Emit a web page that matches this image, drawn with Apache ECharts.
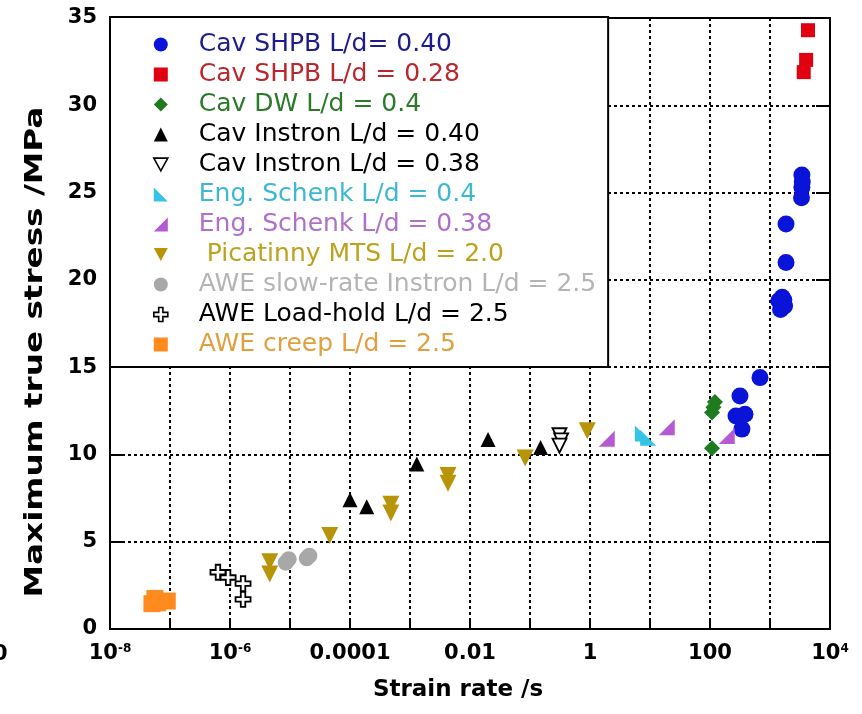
<!DOCTYPE html>
<html>
<head>
<meta charset="utf-8">
<script src="https://cdn.jsdelivr.net/npm/echarts@6/dist/echarts.min.js"></script>
<style>
  html, body { margin: 0; padding: 0; background: #fff; }
  #main { width: 862px; height: 714px; }
</style>
</head>
<body>
<div id="main"></div>
<script>
// strain rate (/s), max true stress (MPa)
const cavShpb040 = [[681, 14.4], [316, 13.35], [271, 12.2], [383, 12.3], [341, 11.45],
  [1400, 18.8], [1600, 19.0], [1750, 18.5], [1500, 18.3], [1700, 18.85], [1550, 18.6],
  [1850, 21.0], [1850, 23.2], [3400, 26.0], [3400, 25.3], [3350, 24.7], [3450, 25.6]];
const cavShpb028 = [[4300, 34.3], [4000, 32.6], [3650, 31.9]];
const cavDw = [[121, 13.0], [114, 12.7], [108, 12.4], [108, 10.35]];
const cavInstron040 = [[1e-4, 7.4], [1.9e-4, 7.0], [1.3e-3, 9.45], [0.02, 10.85], [0.15, 10.4]];
const cavInstron038 = [[0.31, 11.1], [0.33, 10.8], [0.31, 10.5]];
const engSchenk04 = [[7.6, 11.2], [9.3, 10.95]];
const engSchenk038 = [[1.9, 10.9], [19, 11.55], [190, 11.05]];
const picatinny = [[4.6e-6, 3.85], [4.6e-6, 3.15], [4.6e-5, 5.35], [4.8e-4, 7.15], [4.8e-4, 6.65],
  [4.3e-3, 8.8], [4.3e-3, 8.35], [0.083, 9.8], [0.9, 11.35]];
const aweSlow = [[8.5e-6, 3.8], [9.5e-6, 4.0], [1.9e-5, 4.05], [2.1e-5, 4.2]];
const aweLoadHold = [[6.3e-7, 3.25], [9.3e-7, 2.95], [1.65e-6, 2.6], [1.65e-6, 1.7]];
const aweCreep = [[5.0e-8, 1.45], [5.6e-8, 1.75], [6.2e-8, 1.5], [9.0e-8, 1.6]];

// x tick labels by decade exponent
const xTickLabels = { '-8': '10{sup|-8}', '-6': '10{sup|-6}', '-4': '0.0001', '-2': '0.01', '0': '1', '2': '100', '4': '10{sup|4}' };

const FONT = 'DejaVu Sans';
const downTri = 'path://M0,0L12,0L6,11Z';
const triLeft = 'path://M0,0L0,10L10,10Z';
const triRight = 'path://M10,0L10,10L0,10Z';
const plus = 'path://M3.5,0H6.5V3.5H10V6.5H6.5V10H3.5V6.5H0V3.5H3.5Z';

// [name, data, symbol, size, fill, border, text colour, legend icon size]
const groups = [
  ['Cav SHPB L/d= 0.40', cavShpb040, 'circle', 17, '#0a14d8', '#0a14d8', '#1c1c8c'],
  ['Cav SHPB L/d = 0.28', cavShpb028, 'rect', 14, '#e00010', '#e00010', '#b8282e'],
  ['Cav DW L/d = 0.4', cavDw, 'diamond', 16, '#1e7b1e', '#1e7b1e', '#2a7a2a'],
  ['Cav Instron L/d = 0.40', cavInstron040, 'triangle', 15, '#000', '#000', '#000'],
  ['Cav Instron L/d = 0.38', cavInstron038, downTri, 14, '#fff', '#000', '#000'],
  ['Eng. Schenk L/d = 0.4', engSchenk04, triLeft, 16, '#33c4e8', '#33c4e8', '#3cb8d4'],
  ['Eng. Schenk L/d = 0.38', engSchenk038, triRight, 16, '#b45ad2', '#b45ad2', '#b070c8'],
  [' Picatinny MTS L/d = 2.0', picatinny, downTri, 17, '#b8940a', '#b8940a', '#bca21e'],
  ['AWE slow-rate Instron L/d = 2.5', aweSlow, 'circle', 16, '#a8a8a8', '#a8a8a8', '#b4b4b4'],
  ['AWE Load-hold L/d = 2.5', aweLoadHold, plus, 15, '#fff', '#000', '#000'],
  ['AWE creep L/d = 2.5', aweCreep, 'rect', 17, '#ff8a1e', '#ff8a1e', '#e0a040']
];

const series = groups.map(g => ({
  name: g[0],
  type: 'scatter',
  symbol: g[2],
  symbolSize: g[3],
  itemStyle: { color: g[4], borderColor: g[5], borderWidth: g[4] === '#fff' ? 1.8 : 0, opacity: 1 },
  data: g[1].map(p => [Math.log10(p[0]), p[1]])
}));

const chart = echarts.init(document.getElementById('main'));
chart.setOption({
  animation: false,
  backgroundColor: '#fff',
  grid: { left: 110, right: 32, top: 18, bottom: 85, show: true, borderColor: '#000', borderWidth: 2 },
  legend: {
    orient: 'vertical',
    left: 110,
    top: 17,
    padding: [15, 12, 10, 43],
    itemGap: 5,
    itemWidth: 14,
    itemHeight: 14,
    backgroundColor: '#fff',
    borderColor: '#000',
    borderWidth: 2,
    borderRadius: 0,
    selectedMode: false,
    formatter: name => '{sp| }' + name,
    textStyle: { fontFamily: FONT, fontSize: 25, lineHeight: 25, rich: { sp: { width: 26 } } },
    data: groups.map(g => ({
      name: g[0],
      icon: g[2],
      itemStyle: { color: g[4], borderColor: g[5], borderWidth: g[4] === '#fff' ? 1.6 : 0 },
      textStyle: { color: g[6] }
    }))
  },
  xAxis: {
    type: 'value',
    min: -8,
    max: 4,
    interval: 1,
    name: 'Strain rate /s',
    nameLocation: 'middle',
    nameGap: 50,
    nameTextStyle: { fontFamily: FONT, fontWeight: 'bold', fontSize: 23, color: '#000', padding: [0, 24, 0, 0] },
    axisLine: { onZero: false, lineStyle: { color: '#000', width: 2 } },
    axisTick: { inside: true, length: 10, lineStyle: { color: '#000', width: 2 } },
    splitLine: { show: true, lineStyle: { color: '#000', width: 2, type: [3, 3] } },
    axisLabel: {
      margin: 14,
      color: '#000',
      fontFamily: FONT,
      fontWeight: 'bold',
      fontSize: 21,
      lineHeight: 22,
      formatter: v => xTickLabels[String(Math.round(v))] || '',
      rich: { sup: { fontFamily: FONT, fontWeight: 'bold', fontSize: 12, lineHeight: 12, verticalAlign: 'top', color: '#000' } }
    }
  },
  yAxis: [{
    type: 'value',
    min: 0,
    max: 35,
    interval: 5,
    axisLine: { show: true, onZero: false, lineStyle: { color: '#000', width: 2 } },
    axisTick: { show: true, inside: true, length: 14, lineStyle: { color: '#000', width: 2 } },
    splitLine: { show: true, lineStyle: { color: '#000', width: 2, type: [3, 3] } },
    axisLabel: { margin: 13, color: '#000', fontFamily: FONT, fontWeight: 'bold', fontSize: 21 }
  }, {
    type: 'value',
    min: 0,
    max: 35,
    interval: 5,
    position: 'right',
    axisLine: { show: true, onZero: false, lineStyle: { color: '#000', width: 2 } },
    axisTick: { show: true, inside: true, length: 14, lineStyle: { color: '#000', width: 2 } },
    splitLine: { show: false },
    axisLabel: { show: false }
  }],
  graphic: [{
    // y axis title, stretched along its length like the source image
    type: 'text', x: 36, y: 352, rotation: Math.PI / 2, scaleX: 1.36,
    style: { text: 'Maximum true stress /MPa', font: 'bold 24px "DejaVu Sans"', fill: '#000', align: 'center', verticalAlign: 'middle' }
  }, {
    type: 'text', left: -7, top: 644,
    style: { text: '0', font: 'bold 21px "DejaVu Sans"', fill: '#000' }
  }],
  series: series
});
</script>
</body>
</html>
